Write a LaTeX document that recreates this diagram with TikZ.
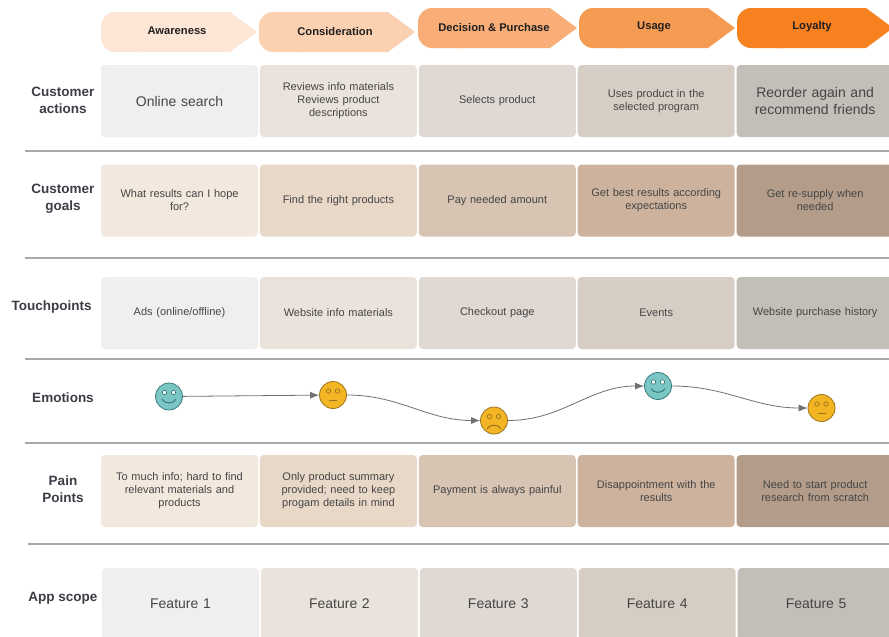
\documentclass[tikz,border=0pt]{standalone}
\usepackage{fontspec}
\setmainfont{Liberation Sans}
\usepackage{xcolor}
\usepackage{tikz}
\usetikzlibrary{arrows.meta}
\usetikzlibrary{positioning}

\definecolor{hdA}{HTML}{FDE6D5}
\definecolor{hdB}{HTML}{FBD1B2}
\definecolor{hdC}{HTML}{F9AE77}
\definecolor{hdD}{HTML}{F69B52}
\definecolor{hdE}{HTML}{F7801F}
\definecolor{gA}{HTML}{F0EFED}
\definecolor{gB}{HTML}{EAE3DC}
\definecolor{gC}{HTML}{DFD8D3}
\definecolor{gD}{HTML}{D6CDC5}
\definecolor{gE}{HTML}{C2BEB8}
\definecolor{wA}{HTML}{F3E8DE}
\definecolor{wB}{HTML}{E8D8C8}
\definecolor{wC}{HTML}{D7C4B2}
\definecolor{wD}{HTML}{CDB39E}
\definecolor{wE}{HTML}{B39D8A}
\definecolor{cellText}{HTML}{454545}
\definecolor{labelText}{HTML}{3B3E46}
\definecolor{sepGrey}{HTML}{A8A8A8}
\definecolor{arrowGrey}{HTML}{707070}
\definecolor{faceTeal}{HTML}{79C6C4}
\definecolor{faceTealDark}{HTML}{3B7A7B}
\definecolor{faceYellow}{HTML}{F4B524}
\definecolor{faceYellowDark}{HTML}{9A7420}

\begin{document}
\begin{tikzpicture}[x=1pt,y=-1pt]
\tikzstyle{cell}=[draw=none,rounded corners=4pt,minimum width=157pt,minimum height=72pt,inner sep=0pt,text width=150pt,align=center,text=cellText,font=\fontsize{11}{13}\selectfont]
\tikzstyle{bigcell}=[cell,font=\fontsize{14}{17}\selectfont]
\tikzstyle{rowlabel}=[align=center,text=labelText,font=\bfseries\fontsize{13.5}{17}\selectfont]
\tikzstyle{header}=[text=black!88,font=\bfseries\fontsize{11.2}{13}\selectfont]
\tikzstyle{separator}=[draw=sepGrey,line width=1.3pt]
\tikzstyle{face}=[circle,draw,line width=0.8pt,minimum size=27pt,inner sep=0pt]
\tikzstyle{happy}=[face,fill=faceTeal,draw=faceTealDark]
\tikzstyle{meh}=[face,fill=faceYellow,draw=faceYellowDark]
\tikzstyle{feature}=[line width=0.7pt]
\tikzstyle{mood}=[-{Latex[length=9pt,width=7pt]},draw=arrowGrey,line width=0.8pt]

% PAGE
\useasboundingbox (0,0) rectangle (889,637);
\fill [white] (0,0) rectangle (889,637);

% STAGE ARROWS
\fill [hdA,rounded corners=14pt] (101,12) rectangle (160,52);
\fill [hdA] (140,12) -- (230,12) -- (257,32) -- (230,52) -- (140,52) -- cycle;
\fill [hdB,rounded corners=14pt] (259,12) rectangle (318,52);
\fill [hdB] (298,12) -- (388,12) -- (415,32) -- (388,52) -- (298,52) -- cycle;
\fill [hdC,rounded corners=14pt] (418,8) rectangle (477,48);
\fill [hdC] (457,8) -- (550,8) -- (577,28) -- (550,48) -- (457,48) -- cycle;
\fill [hdD,rounded corners=14pt] (579,8) rectangle (638,48);
\fill [hdD] (618,8) -- (708,8) -- (735,28) -- (708,48) -- (618,48) -- cycle;
\fill [hdE,rounded corners=14pt] (737,8) rectangle (796,48);
\fill [hdE] (776,8) -- (866,8) -- (893,28) -- (866,48) -- (776,48) -- cycle;
\node (sAware) [header] at (177,31) {Awareness};
\node (sConsider) [header] at (335,31) {Consideration};
\node (sDecide) [header] at (494,27) {Decision \& Purchase};
\node (sUse) [header] at (654,27) {Usage};
\node (sLoyal) [header] at (812,27) {Loyalty};

% ROW LABELS
\node (lActions) [rowlabel] at (63,100) {Customer\\actions};
\node (lGoals) [rowlabel] at (63,198.5) {Customer\\goals};
\node (lTouch) [rowlabel] at (51.5,307) {Touchpoints};
\node (lEmotions) [rowlabel] at (63,398) {Emotions};
\node (lPain) [rowlabel] at (63,489.5) {Pain\\Points};
\node (lApp) [rowlabel] at (63,598) {App scope};

% SEPARATORS
\draw [separator] (25,151) -- (889,151);
\draw [separator] (25,258) -- (889,258);
\draw [separator] (25,359) -- (889,359);
\draw [separator] (25,443) -- (889,443);
\draw [separator] (28,544) -- (889,544);

% CUSTOMER ACTIONS
\node (a1) [bigcell,fill=gA] at (179.5,101) {Online search};
\node (a2) [cell,fill=gB,right=1.5pt of a1] {Reviews info materials\\Reviews product\\descriptions};
\node (a3) [cell,fill=gC,right=1.5pt of a2] {Selects product};
\node (a4) [cell,fill=gD,right=1.5pt of a3] {Uses product in the\\selected program};
\node (a5) [bigcell,fill=gE,right=1.5pt of a4] {Reorder again and\\recommend friends};

% CUSTOMER GOALS
\node (g1) [cell,fill=wA] at (179.5,200.5) {What results can I hope\\for?};
\node (g2) [cell,fill=wB,right=1.5pt of g1] {Find the right products};
\node (g3) [cell,fill=wC,right=1.5pt of g2] {Pay needed amount};
\node (g4) [cell,fill=wD,right=1.5pt of g3] {Get best results according\\expectations};
\node (g5) [cell,fill=wE,right=1.5pt of g4] {Get re-supply when\\needed};

% TOUCHPOINTS
\node (t1) [cell,fill=gA] at (179.5,313) {Ads (online/offline)};
\node (t2) [cell,fill=gB,right=1.5pt of t1] {Website info materials};
\node (t3) [cell,fill=gC,right=1.5pt of t2] {Checkout page};
\node (t4) [cell,fill=gD,right=1.5pt of t3] {Events};
\node (t5) [cell,fill=gE,right=1.5pt of t4] {Website purchase history};

% EMOTIONS
\node (e1) [happy] at (169,396.5) {};
\node (e2) [meh] at (333,395) {};
\node (e3) [meh] at (494,420.5) {};
\node (e4) [happy] at (658,386) {};
\node (e5) [meh] at (821.5,408) {};
% eyes
\draw [feature,draw=faceTealDark,fill=white] (e1.center) ++(-4.5,-4) circle [radius=2.2pt] (e1.center) ++(4.5,-4) circle [radius=2.2pt];
\draw [feature,draw=faceYellowDark] (e2.center) ++(-4.5,-4) circle [radius=2.2pt] (e2.center) ++(4.5,-4) circle [radius=2.2pt];
\draw [feature,draw=faceYellowDark] (e3.center) ++(-4.5,-4) circle [radius=2.2pt] (e3.center) ++(4.5,-4) circle [radius=2.2pt];
\draw [feature,draw=faceTealDark,fill=white] (e4.center) ++(-4.5,-4) circle [radius=2.2pt] (e4.center) ++(4.5,-4) circle [radius=2.2pt];
\draw [feature,draw=faceYellowDark] (e5.center) ++(-4.5,-4) circle [radius=2.2pt] (e5.center) ++(4.5,-4) circle [radius=2.2pt];
% mouths
\draw [feature,draw=faceTealDark,line width=1pt] (e1.center) ++(-7,2.5) to [bend right=70] ++(14,0);
\draw [feature,draw=faceYellowDark] (e2.center) ++(-4,5.5) -- ++(8,0);
\draw [feature,draw=faceYellowDark,line width=1pt] (e3.center) ++(-7,8.5) to [bend left=70] ++(14,0);
\draw [feature,draw=faceTealDark,line width=1pt] (e4.center) ++(-7,2.5) to [bend right=70] ++(14,0);
\draw [feature,draw=faceYellowDark] (e5.center) ++(-4,5.5) -- ++(8,0);
% arrows
\draw [mood] (e1) -- (e2);
\draw [mood] (e2.east) to [out=0,in=180] (e3.west);
\draw [mood] (e3.east) to [out=0,in=180] (e4.west);
\draw [mood] (e4.east) to [out=0,in=180] (e5.west);

% PAIN POINTS
\node (p1) [cell,fill=wA] at (179.5,491) {To much info; hard to find\\relevant materials and\\products};
\node (p2) [cell,fill=wB,right=1.5pt of p1] {Only product summary\\provided; need to keep\\progam details in mind};
\node (p3) [cell,fill=wC,right=1.5pt of p2] {Payment is always painful};
\node (p4) [cell,fill=wD,right=1.5pt of p3] {Disappointment with the\\results};
\node (p5) [cell,fill=wE,right=1.5pt of p4] {Need to start product\\research from scratch};

% APP SCOPE
\node (f1) [bigcell,fill=gA] at (180.5,604) {Feature 1};
\node (f2) [bigcell,fill=gB,right=1.5pt of f1] {Feature 2};
\node (f3) [bigcell,fill=gC,right=1.5pt of f2] {Feature 3};
\node (f4) [bigcell,fill=gD,right=1.5pt of f3] {Feature 4};
\node (f5) [bigcell,fill=gE,right=1.5pt of f4] {Feature 5};

\end{tikzpicture}
\end{document}
